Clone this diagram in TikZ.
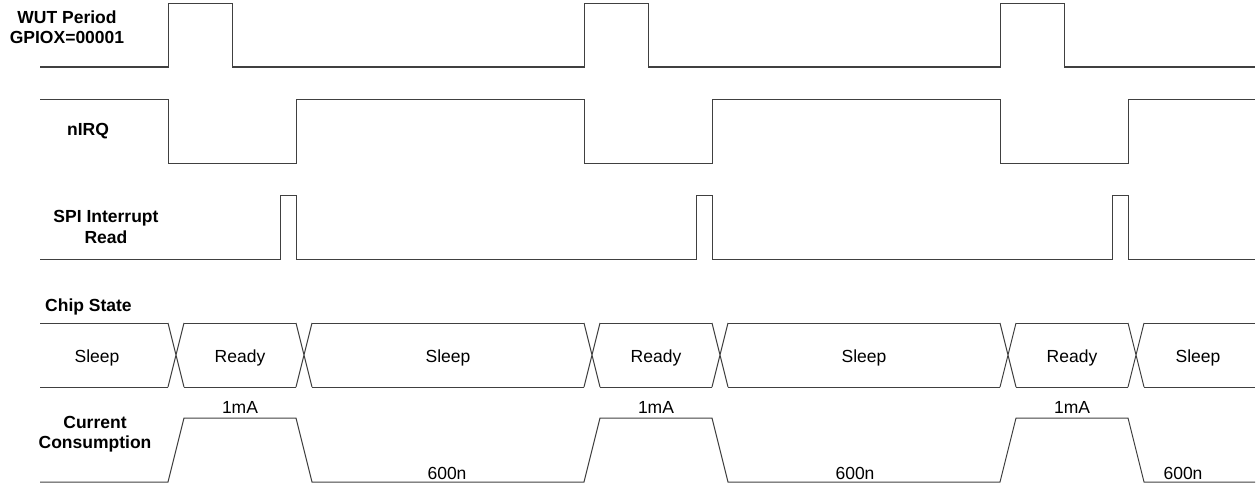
\documentclass[tikz,border=0pt]{standalone}
\usepackage{fontspec}
\setmainfont{Liberation Sans}
\usepackage{tikz}
\usetikzlibrary{positioning}
\def\fs{\fontsize{17.5}{20.5}\selectfont}
\tikzstyle{wave} = [line width=1pt, draw=black!75]
\tikzstyle{sig} = [inner sep=0pt, font=\fs\bfseries, align=center]
\tikzstyle{val} = [inner sep=0pt, anchor=base, font=\fs]

\begin{document}
\begin{tikzpicture}[x=1pt, y=-1pt]

  \useasboundingbox (0,0) rectangle (1260,487);

  % signal names
  \node (wut) [sig] at (67,27) {WUT Period\\GPIOX=00001};
  \node (nirq) [sig, anchor=base] at (88,135) {nIRQ};
  \node (spi) [sig] at (106,227) {SPI Interrupt\\Read};
  \node (chip) [sig, anchor=base west] at (45,311) {Chip State};
  \node (cur) [sig] at (95,434) {Current\\Consumption};

  % WUT period
  \draw [wave] (40,67) \foreach \t in {168,584,1000} { -- (\t,67) -- (\t,4) -- (\t+64,4) -- (\t+64,67) } -- (1255,67);

  % nIRQ
  \draw [wave] (40,99) \foreach \t in {168,584,1000} { -- (\t,99) -- (\t,163) -- (\t+128,163) -- (\t+128,99) } -- (1255,99);

  % SPI read
  \draw [wave] (40,259) \foreach \t in {168,584,1000} { -- (\t+112,259) -- (\t+112,195) -- (\t+128,195) -- (\t+128,259) } -- (1255,259);

  % chip state bus
  \foreach \a/\b in {40/168,184/296,312/584,600/712,728/1000,1016/1128,1144/1255}
    \draw [wave] (\a,323) -- (\b,323) (\a,387) -- (\b,387);
  \foreach \t in {168,296,584,712,1000,1128}
    \draw [wave] (\t,323) -- (\t+16,387) (\t,387) -- (\t+16,323);

  \node (s1) [val] at (97,362) {Sleep};
  \node (r1) [val] at (240,362) {Ready};
  \node (s2) [val] at (448,362) {Sleep};
  \node (r2) [val] at (656,362) {Ready};
  \node (s3) [val] at (864,362) {Sleep};
  \node (r3) [val] at (1072,362) {Ready};
  \node (s4) [val] at (1198,362) {Sleep};

  % current
  \draw [wave] (40,482) \foreach \t in {168,584,1000} { -- (\t,482) -- (\t+16,418) -- (\t+128,418) -- (\t+144,482) } -- (1255,482);

  \foreach \t [count=\i] in {240,656,1072}
    \node (hi\i) [val] at (\t,413) {1mA};
  \foreach \t [count=\i] in {447,855,1183}
    \node (lo\i) [val] at (\t,479) {600n};

\end{tikzpicture}
\end{document}
